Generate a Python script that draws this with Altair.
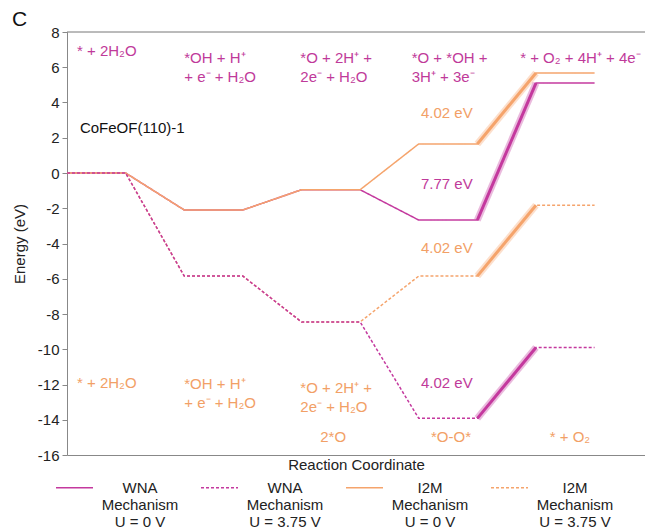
import altair as alt
import pandas as pd

# ---------------- data ----------------
steps = [0, 1, 2, 3, 4]
series_names = [
    "WNA\nMechanism\nU = 0 V",
    "WNA\nMechanism\nU = 3.75 V",
    "I2M\nMechanism\nU = 0 V",
    "I2M\nMechanism\nU = 3.75 V",
]
wna_u0 = [0, -2.1, -0.95, -2.67, 5.1]
wna_u375 = [0, -5.85, -8.45, -13.92, -9.9]
i2m_u0 = [0, -2.1, -0.95, 1.65, 5.67]
i2m_u375 = [0, -5.85, -8.45, -5.85, -1.83]
energies = [wna_u0, wna_u375, i2m_u0, i2m_u375]
y_ticks = [-16, -14, -12, -10, -8, -6, -4, -2, 0, 2, 4, 6, 8]

top_labels = ["* + 2H₂O", "*OH + H⁺\n+ e⁻ + H₂O", "*O + 2H⁺ +\n2e⁻ + H₂O",
              "*O + *OH +\n3H⁺ + 3e⁻", "* + O₂ + 4H⁺ + 4e⁻"]
top_x = [0.17, 2.0, 3.98, 5.88, 7.73]
top_y = [7.3, 6.95, 6.95, 6.95, 6.95]

bottom_labels = ["* + 2H₂O", "*OH + H⁺\n+ e⁻ + H₂O", "*O + 2H⁺ +\n2e⁻ + H₂O"]
bottom_x = [0.17, 2.0, 3.98]
bottom_y = [-11.5, -11.6, -11.82]

species_labels = ["2*O", "*O-O*", "* + O₂"]
species_x = [4.54, 6.55, 8.58]
species_y = [-15.0, -15.0, -15.0]

ev_orange = ["4.02 eV", "4.02 eV"]
ev_orange_y = [3.4, -4.26]
ev_magenta = ["7.77 eV", "4.02 eV"]
ev_magenta_y = [-0.63, -11.93]
ev_x = 6.48

MAG = "#C4399E"
ORG = "#F5A46C"
MAG_T = "#BF3A9A"
ORG_T = "#F2A066"
FS = 15

# -------------- tables --------------
rows = []
for s, vals in zip(series_names, energies):
    k = 0
    for i, e in zip(steps, vals):
        rows.append({"series": s, "x": 2 * i, "E": e, "o": k}); k += 1
        rows.append({"series": s, "x": 2 * i + 1, "E": e, "o": k}); k += 1
df = pd.DataFrame(rows)

glow_rows = []
for s, vals in zip(series_names, energies):
    glow_rows.append({"series": s, "x": 7, "E": vals[3], "o": 0})
    glow_rows.append({"series": s, "x": 8, "E": vals[4], "o": 1})
gdf = pd.DataFrame(glow_rows)

color_scale = alt.Scale(domain=series_names, range=[MAG, MAG, ORG, ORG])
dash_scale = alt.Scale(domain=series_names, range=[[1, 0], [3, 2], [1, 0], [3, 2]])

legend = alt.Legend(
    title=None, orient="none", legendX=-12, legendY=436, direction="horizontal",
    columns=4, columnPadding=19, symbolType="stroke", symbolSize=1369,
    symbolStrokeWidth=1.5, labelExpr="split(datum.label, '\\n')",
    labelAlign="center", labelBaseline="middle", labelOffset=46,
    labelFontSize=FS, labelColor="#222", labelLimit=200, symbolOpacity=1,
)

x_axis = alt.Axis(title="Reaction Coordinate", labels=False, ticks=False, grid=False,
                  domainColor="#888", titleFontSize=FS, titleFontWeight="normal",
                  titleColor="#222", titlePadding=2)
y_axis = alt.Axis(title="Energy (eV)", values=y_ticks, grid=False, labelOverlap=False,
                  labelExpr="datum.value < 0 ? '-' + abs(datum.value) : '' + datum.value",
                  domainColor="#888", tickColor="#888", tickSize=5, labelFontSize=FS,
                  labelColor="#222", titleFontSize=FS, titleFontWeight="normal",
                  titleColor="#222", titlePadding=10, labelPadding=3)
x_scale = alt.Scale(domain=[0, 9.86], nice=False, zero=False)
y_scale = alt.Scale(domain=[-16, 8], nice=False, zero=False)


def X(field="x"):
    return alt.X(f"{field}:Q", scale=x_scale, axis=x_axis)


def Y(field="E"):
    return alt.Y(f"{field}:Q", scale=y_scale, axis=y_axis)


def line_layer(name):
    return alt.Chart(df).transform_filter(alt.datum.series == name).mark_line(strokeWidth=1.5).encode(
        x=X(), y=Y(),
        color=alt.Color("series:N", scale=color_scale, legend=legend),
        strokeDash=alt.StrokeDash("series:N", scale=dash_scale, legend=legend),
        order="o:Q",
    )


glow = alt.Chart(gdf).mark_line(strokeWidth=7, opacity=0.35).encode(
    x=X(), y=Y(), detail="series:N",
    color=alt.Color("series:N", scale=color_scale, legend=legend), order="o:Q")
core = alt.Chart(gdf).mark_line(strokeWidth=3).encode(
    x=X(), y=Y(), detail="series:N",
    color=alt.Color("series:N", scale=color_scale, legend=legend), order="o:Q")

topline = alt.Chart(pd.DataFrame({"E": [max(y_ticks)]})).mark_rule(
    color="#777", strokeWidth=1).encode(y=Y())

tdf = pd.DataFrame({"t": top_labels, "x": top_x, "y": top_y})
top_text = alt.Chart(tdf).mark_text(align="left", baseline="top", lineBreak="\n", fontSize=FS,
                                    color=MAG_T, lineHeight=19).encode(x=X(), y=Y("y"), text="t:N")
bdf = pd.DataFrame({"t": bottom_labels, "x": bottom_x, "y": bottom_y})
bot_text = alt.Chart(bdf).mark_text(align="left", baseline="top", lineBreak="\n", fontSize=FS,
                                    color=ORG_T, lineHeight=19).encode(x=X(), y=Y("y"), text="t:N")
sdf = pd.DataFrame({"t": species_labels, "x": species_x, "y": species_y})
sp_text = alt.Chart(sdf).mark_text(align="center", baseline="middle", fontSize=FS,
                                   color=ORG_T).encode(x=X(), y=Y("y"), text="t:N")
eodf = pd.DataFrame({"t": ev_orange, "x": [ev_x] * 2, "y": ev_orange_y})
eo_text = alt.Chart(eodf).mark_text(align="center", baseline="middle", fontSize=FS,
                                    color=ORG_T).encode(x=X(), y=Y("y"), text="t:N")
emdf = pd.DataFrame({"t": ev_magenta, "x": [ev_x] * 2, "y": ev_magenta_y})
em_text = alt.Chart(emdf).mark_text(align="center", baseline="middle", fontSize=FS,
                                    color=MAG_T).encode(x=X(), y=Y("y"), text="t:N")
cdf = pd.DataFrame({"t": ["CoFeOF(110)-1"], "x": [0.22], "y": [2.56]})
c_text = alt.Chart(cdf).mark_text(align="left", baseline="middle", fontSize=FS,
                                  color="#111").encode(x=X(), y=Y("y"), text="t:N")

panel = alt.Chart(pd.DataFrame({"t": ["C"]})).mark_text(
    align="left", baseline="middle", fontSize=21, color="#111"
).encode(text="t:N", x=alt.value(-55), y=alt.value(-12))

chart = alt.layer(
    topline,
    line_layer(series_names[0]), line_layer(series_names[2]),
    line_layer(series_names[3]), line_layer(series_names[1]),
    glow, core,
    top_text, bot_text, sp_text, eo_text, em_text, c_text, panel,
).properties(
    width=578, height=423,
    autosize=alt.AutoSizeParams(type="none"),
    padding={"left": 59, "top": 24, "right": 0, "bottom": 76},
).configure(font="Liberation Sans").configure_view(stroke=None)

chart.save("out.html", embed_options={"renderer": "svg", "actions": False})
